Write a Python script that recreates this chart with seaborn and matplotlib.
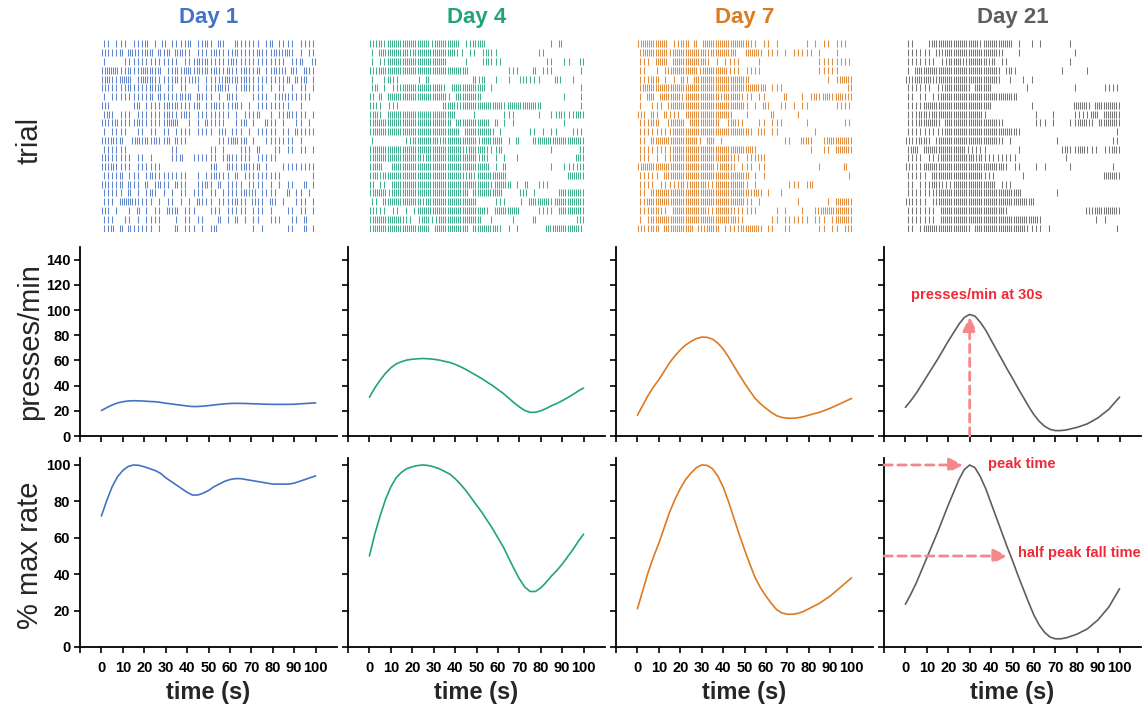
import numpy as np
import pandas as pd
import matplotlib
matplotlib.use("Agg")
import matplotlib.pyplot as plt
import seaborn as sns

# --------------------------
# data
# --------------------------
days = ["Day 1", "Day 4", "Day 7", "Day 21"]
day_colors = ["#4472c4", "#21a37b", "#dd7a21", "#5e5e5e"]

time_s = [0, 2.5, 5, 7.5, 10, 12.5, 15, 17.5, 20, 22.5, 25, 27.5, 30, 32.5, 35, 37.5,
          40, 42.5, 45, 47.5, 50, 52.5, 55, 57.5, 60, 62.5, 65, 67.5, 70, 72.5, 75,
          77.5, 80, 82.5, 85, 87.5, 90, 92.5, 95, 97.5, 100]

rate_day1 = [20.2, 22.5, 24.6, 26.2, 27.2, 27.8, 28, 27.9, 27.7, 27.4, 27.2, 26.7, 26,
             25.5, 24.9, 24.4, 23.8, 23.4, 23.4, 23.7, 24.1, 24.6, 25.1, 25.5, 25.8,
             25.9, 25.9, 25.8, 25.6, 25.5, 25.3, 25.2, 25.1, 25.1, 25.1, 25.1, 25.2,
             25.5, 25.8, 26, 26.3]
rate_day4 = [30.8, 38.1, 44.3, 49.8, 54.1, 57.2, 59, 60.3, 60.9, 61.3, 61.5, 61.3, 60.9,
             60.3, 59.3, 58.4, 56.9, 55, 52.9, 50.4, 48, 45.5, 42.7, 40, 36.9, 33.8,
             30.1, 26.4, 23.1, 20.3, 18.8, 18.8, 20, 21.8, 24, 25.8, 28, 30.4, 32.9,
             35.7, 38.1]
rate_day7 = [16.5, 24.3, 32.2, 38.9, 44.7, 51.4, 58.1, 63.6, 68.3, 72.2, 75, 77.3, 78.5,
             78.3, 76.9, 73.8, 69.1, 62.8, 55.7, 48.7, 42, 35.7, 29.8, 25.5, 22, 18.8,
             16.1, 14.7, 14.1, 14.1, 14.5, 15.3, 16.5, 17.7, 18.8, 20.4, 22, 23.9, 25.9,
             27.9, 29.8]
rate_day21 = [22.7, 28, 33.8, 40.5, 47.3, 54, 60.8, 68, 75.3, 82, 88.8, 94.1, 96.5, 95.1,
              90.2, 84, 76.2, 68.5, 60.8, 53.1, 45.8, 38.1, 30.9, 23.6, 16.9, 11.6, 7.7,
              5.3, 4.3, 4.3, 4.8, 5.8, 6.8, 8.2, 9.7, 12.1, 14.5, 17.9, 21.2, 26.1, 30.9]

pct_day1 = [72, 80.5, 88, 93.5, 97, 99.2, 100, 99.8, 99, 98, 97, 95.5, 93, 91, 89, 87, 85,
            83.5, 83.5, 84.5, 86, 88, 89.5, 91, 92, 92.5, 92.5, 92, 91.5, 91, 90.5, 90,
            89.5, 89.5, 89.5, 89.5, 90, 91, 92, 93, 94]
pct_day4 = [50, 62, 72, 81, 88, 93, 96, 98, 99, 99.7, 100, 99.7, 99, 98, 96.5, 95, 92.5,
            89.5, 86, 82, 78, 74, 69.5, 65, 60, 55, 49, 43, 37.5, 33, 30.5, 30.5, 32.5,
            35.5, 39, 42, 45.5, 49.5, 53.5, 58, 62]
pct_day7 = [21, 31, 41, 49.5, 57, 65.5, 74, 81, 87, 92, 95.5, 98.5, 100, 99.8, 98, 94, 88,
            80, 71, 62, 53.5, 45.5, 38, 32.5, 28, 24, 20.5, 18.7, 18, 18, 18.5, 19.5, 21,
            22.5, 24, 26, 28, 30.5, 33, 35.5, 38]
pct_day21 = [23.5, 29, 35, 42, 49, 56, 63, 70.5, 78, 85, 92, 97.5, 100, 98.5, 93.5, 87, 79,
             71, 63, 55, 47.5, 39.5, 32, 24.5, 17.5, 12, 8, 5.5, 4.5, 4.5, 5, 6, 7, 8.5,
             10, 12.5, 15, 18.5, 22, 27, 32]

# raster: one string per trial, 5 blocks of 10 bins (2 s each), '|' = 1 press, ':' = 2 presses
raster_day1 = [
    "|| ||| |||/: | : ||||/: ||:| :| / :||||| |:/ |||| ||||",
    ":|||: ::||/:: :|: ::|/| ||||:|||/|:||||:|||/:|::| | ||",
    "|    |||||/|||||||| |/||:|:|||||/:|||||||||/||| ||:  :",
    "::::||:||:/::|: ||:|:/:|:|:|:||:/|||:||: ||/:|: :| :||",
    "::||::: |:/::|||||:||/|:| ||||::/|:|:||||||/|||: :|: |",
    ":|||||:|||/|:|: || ||/  | |||::|/ ||:|||| |/ || | || |",
    "| ||||||||/|: :||||:|/: :||| | :/||   |||| /||:|||||| ",
    ":|     |: /|||||:|:||/||: ||:|||/|:| | ||||/||||  |   ",
    "|:| ||| ||/|||||:|||:/| ||||||||/ | |||:  |/ ||:|||| |",
    ":||:||||:|/|||||:::  /| | :|||| / ||: |  :|/| |  || | ",
    "| ||||  ||/ || || |||/| |||| |: /||| | ||||/| || :||||",
    ":|:|:  ::|/:|:||: :||/       |||/::|: |  ||/||||| |   ",
    "||||||    /      ||  /     || | /  ||| :   /|| || || |",
    ":|||||| ||/ |    ||: / |||||| |:/||||| ||||/|         ",
    ":|:|||| ||/||||      /     |:  :/|||:||: | /  ||||||||",
    "||||: ||| /|:||||||||/  | ||:|||/ : |||||||/||       |",
    ":|||: :|| /: |:|| :||/  ||:| : |/||| |||| |/ | ||  : |",
    "||||| : | /|:| | | ||/ ||| || ||/|||:|: |||/|  : || | ",
    "||| ::::||/|| | || | /| :||| |||/|:|| :|| :/| |  ||| |",
    ":| |  | : /| || :|: |/||   ||| |/|||| ||| |/   || || |",
    "|||  || | /||||   | |/| ||   : |/ : | ||  |/||  || :  ",
    "||: : :|||/|| |   : |/|| | |:   /     | |  /   ||  : |",
]
raster_day4 = [
    ":|:|::::::/::::|:::::/: ||:::   /          /  | :     ",
    "| :::::::|/::::::::::/|| || |:||/         |/|         ",
    "| ||::::::/::::::::  /  |   |:||/|         / ||  ||  :",
    ":|::::::::/::::::::::/:::       /  |||   : /|||      |",
    "|  |:||   / | :      /    :|:  |/  |  :||||/   :|  |  ",
    "|: | ||:::/:::::::| :/::::::: | /          /         |",
    ": : ::::::/::::::::| /::::::    /          /     |   |",
    ":|| |||   /       :::/|:::::::::/:|::::::::/         |",
    "::| ::::::/::::::::::/    |     / |||     |/  ||:|||::",
    "::::::::::/::::::::: /:::::::: :/ | |      /     |    ",
    "::::::::::/::::::::::/: ::::::: /|      || /| ||   |||",
    "|       ||/::::::|:::/:::::|::::/: | :   ::/::::::::::",
    "::::::::::/::::::::::/::|::::|||/:         /  |      :",
    "::::::::::/::|:::::::/:::::|:| |/ |  |     /        ::",
    ":::  :::::/::::::::::/:::::::: |/ :        /  |  ||||:",
    "::|:::::::/::::::::::/::|:|:::::/::        /      ::::",
    ": || :::::/::::::::::/::::::::|:/::: | :  |/||        ",
    "::::|:::::/::::::::::/::: ::::::/:    :| | /    ::::::",
    "|| :::::::/::|:::::::/:::::    |/||   | :::/::|:::::::",
    ":||| || | /|:::::::::/:::::::| :/:::::    |/||| ::::::",
    "::::::::||/ |::||::::/::::::  | /   |    : /        |:",
    "::::::::::/:::: :::::/::: ::::::/| | |     / ::::::::|",
]
raster_day7 = [
    "::::::: ||/:: : :::::/::::::|| |/| |      |/ | || ||| ",
    "|::::::|::/::::::|:::/:::  :::: /||| | ||||/| |   |   ",
    "||| ::: ::/::::::| | /||||    | /          /  ||||||||",
    "||  | |:::/::::|:::::/:||| |||| /          /  |||||   ",
    "|||:: | | /:| :::::::/::::::    /          /    | |:::",
    "|:::::::::/::::::::::/::::::::::/ |||      /         :",
    "| :: :::::/|::::::::|/::::||| ||/    :   | /|:|::|::|:",
    "|  ||| :::/::::::::::/:::::| | :/|  || | ||/      ||||",
    ":| :| :|||/ :::::::::/::   |    / :     |  /          ",
    "|||::  :::/: ::::::: / ::||   ||/ |||     |/        ||",
    "||||||||::/::::::::::/::::::| :|/ ||       / |        ",
    "|| :::::::/::::| :: |/          /    ||  ::/|  |::::::",
    "||||||||::/::::::::::/:::::::|  /          /|  || ::::",
    "||| | ||::/::::::::::/::|| |||:|/          /          ",
    "::::::::::/::::::::|:/::| ||| ||/          /  |     : ",
    "||||| ::::/::::::::::/:::::: | |/          /         |",
    "|||| |||||/:|::::||::/:::::| |  /     ||| |/:         ",
    "|| :::::::/::::::::::/::::::|:: /|  |      /          ",
    "||::::::::/::::::::::/:::::|| | /       |  /    | ::::",
    "|||::|| ::/::::::||::/::||||||  /  | |   | / |::::::::",
    "| |:::::::/::::::::::/:::||     / || ||||||/ ||| |::::",
    ":||:: ::::/::: :|::: /||||::::: /||  ||    /  || || |:",
]
raster_day21 = [
    "||   |::::/:::::::|::/::::: |  |/ |      | /          ",
    "|||||| :|:/::::::::::/::|   |   /         |/          ",
    "||||||| ||/:::|:::::|/: ||      /        | /          ",
    "| ::::::::/::::::::::/:: |:|    /      |   /  |       ",
    ":|::::|:::/::::::::::/::  |  | |/          /          ",
    "|||||| ||:/::::: ::::/        | /         |/      ||||",
    "|| || ||::/::::::::::/::::::    /          /          ",
    "||||::::::/::::::::::/         |/         :/::: ::::::",
    "|||::|::::/::::::::| /          /|   |    |/|||:: ::::",
    "|||::::: :/::::::::::/::|       /||| |   ||/:::| :::::",
    "|||||||||:/::::::::::/::::::|   /          /         |",
    ":||::| :::/::::::::::/::| |     /     |    /        ||",
    "|:: ::::::/::::||||| /      |   /      |:||/::||| ||::",
    "|||| |||::/::::::|:||/||||||    /       |  /          ",
    ":|||::::::/::::::::::/:::| ||   /| |     | /        | ",
    "||||| ::::/::::::::||/|      |  /          /      ::::",
    "|| |||::||/|:::::::::/: |||     /          /          ",
    "|||||||:::/::::::::::/:::::::   /     |    /          ",
    ":|||| |:::/::::::::::/::::::::::/          /          ",
    "||||||| ::/::::::::::/:::|      /          /  :|::::::",
    "||||||| ::/::::::::::/::::::::::/:|        /    | |   ",
    "|| |::::::/::::: ::::/::::::::||/|| |      /         |",
]

rates = [rate_day1, rate_day4, rate_day7, rate_day21]
pcts = [pct_day1, pct_day4, pct_day7, pct_day21]
rasters = [raster_day1, raster_day4, raster_day7, raster_day21]

BIN = 2.0


def row_events(row):
    bins = "".join(seg.ljust(10)[:10] for seg in row.split("/"))
    ev = []
    for i, ch in enumerate(bins):
        if ch == "|":
            ev.append(i * BIN + BIN / 2)
        elif ch == ":":
            ev += [i * BIN + BIN / 4, i * BIN + 3 * BIN / 4]
    return ev


df = pd.concat(
    [pd.DataFrame({"time": time_s, "rate": r, "pct": p, "day": d})
     for d, r, p in zip(days, rates, pcts)],
    ignore_index=True,
)

# --------------------------
# style
# --------------------------
sns.set_theme(style="ticks")
plt.rcParams["font.family"] = ["Liberation Sans", "DejaVu Sans"]
plt.rcParams["axes.edgecolor"] = "black"
plt.rcParams["xtick.color"] = "black"
plt.rcParams["ytick.color"] = "black"

W, H = 1148, 712
fig = plt.figure(figsize=(W / 100, H / 100), dpi=100)


def px_axes(left, top, width, height):
    return fig.add_axes([left / W, 1 - (top + height) / H, width / W, height / H])


col_left = [80, 348, 616, 884]
ax_w = 257
red_text = "#ee2b36"
red_arrow = "#f4878b"


def style_axis(ax, ylim, yticks, show_ylab, show_xlab):
    ax.set_xlim(-10, 110)
    ax.set_ylim(*ylim)
    ax.set_xticks(range(-10, 101, 10))
    ax.set_xticklabels([""] + [str(v) for v in range(0, 101, 10)])
    ax.set_yticks(yticks)
    ax.set_xlabel("")
    ax.set_ylabel("")
    sns.despine(ax=ax)
    for s in ["left", "bottom"]:
        ax.spines[s].set_linewidth(1.3)
    ax.tick_params(axis="both", direction="out", length=4, width=1.2,
                   labelsize=10.5, pad=3)
    ax.tick_params(axis="x", pad=6, labelbottom=show_xlab)
    ax.tick_params(axis="y", labelleft=show_ylab)
    for lab in ax.get_xticklabels() + ax.get_yticklabels():
        lab.set_fontweight("bold")


for j, day in enumerate(days):
    c = day_colors[j]
    left = col_left[j]
    sub = df[df["day"] == day]

    # raster
    ax_r = px_axes(left, 39.6, ax_w, 192.8)
    events = [row_events(r) for r in rasters[j]]
    n = len(events)
    ax_r.eventplot(events, lineoffsets=np.arange(1, n + 1), linelengths=0.8,
                   linewidths=0.75, colors=c, alpha=0.85)
    ax_r.set_xlim(-10, 110)
    ax_r.set_ylim(n + 0.5, 0.5)
    ax_r.axis("off")
    fig.text((left + ax_w / 2) / W, 1 - 18 / H, day, color=c, fontsize=16,
             fontweight="bold", ha="center", va="center")

    # presses/min
    ax_a = px_axes(left, 247, ax_w, 189)
    sns.lineplot(data=sub, x="time", y="rate", ax=ax_a, color=c, linewidth=1.2)
    style_axis(ax_a, (0, 150), range(0, 141, 20), j == 0, False)

    # % max rate
    ax_b = px_axes(left, 457.7, ax_w, 189.3)
    sns.lineplot(data=sub, x="time", y="pct", ax=ax_b, color=c, linewidth=1.2)
    style_axis(ax_b, (0, 104), range(0, 101, 20), j == 0, True)

    fig.text((left + ax_w / 2) / W, 1 - 692 / H, "time (s)", fontsize=17,
             fontweight="bold", ha="center", va="center")

    if day == "Day 21":
        r = np.array(rates[j])
        p = np.array(pcts[j])
        t = np.array(time_s)
        k = int(np.argmax(r))
        peak_t, peak_r = t[k], r[k]
        # time where % falls back through 50 after the peak
        fall_t = np.interp(-50, -p[k:], t[k:])

        arrow = dict(arrowstyle="-|>,head_length=0.7,head_width=0.35",
                     color=red_arrow, lw=2, linestyle=(0, (3, 2)),
                     shrinkA=0, shrinkB=0)
        ax_a.annotate("", xy=(peak_t, peak_r - 2), xytext=(peak_t, 0),
                      arrowprops=arrow, annotation_clip=False)
        ax_a.text(2.8, 112, "presses/min at 30s", color=red_text, fontsize=10.5,
                  fontweight="bold", ha="left", va="center")

        ax_b.annotate("", xy=(peak_t - 3, 100), xytext=(-10, 100),
                      arrowprops=arrow, annotation_clip=False)
        ax_b.text(38.5, 100.5, "peak time", color=red_text, fontsize=10.5,
                  fontweight="bold", ha="left", va="center", clip_on=False)
        ax_b.annotate("", xy=(fall_t - 1.5, 50), xytext=(-10, 50),
                      arrowprops=arrow, annotation_clip=False)
        ax_b.text(52.8, 51.5, "half peak fall time", color=red_text, fontsize=10.5,
                  fontweight="bold", ha="left", va="center", clip_on=False)

fig.text(30 / W, 1 - 140 / H, "trial", fontsize=21, rotation=90,
         ha="center", va="center")
fig.text(30 / W, 1 - 342 / H, "presses/min", fontsize=21, rotation=90,
         ha="center", va="center")
fig.text(30 / W, 1 - 555 / H, "% max rate", fontsize=21, rotation=90,
         ha="center", va="center")

fig.savefig("out.png", dpi=100)
